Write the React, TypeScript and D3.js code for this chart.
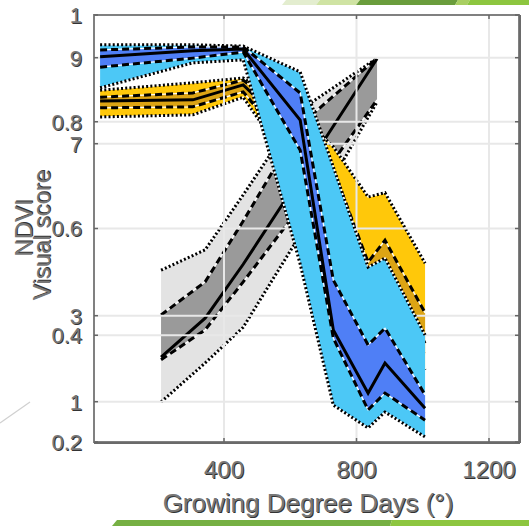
import React from "react";
import * as d3 from "d3";

// sampling dates (growing degree days)
const gddMain = [26, 306, 458, 630, 730, 835, 886, 1007];
const gddGrey = [210, 343, 458, 630, 862];

// visual score band (blue)
const scoreOuterHi = [9.3, 9.3, 9.27, 8.67, 6.46, 4.13, 4.34, 2.55];
const scoreInnerHi = [9.18, 9.25, 9.25, 8.18, 3.83, 2.32, 2.71, 1.16];
const scoreMed = [9.02, 9.16, 9.2, 7.55, 2.67, 1.2, 1.9, 0.85];
const scoreInnerLo = [8.78, 8.99, 9.13, 6.85, 2.48, 0.81, 1.2, 0.57];
const scoreOuterLo = [8.3, 8.88, 8.95, 4.2, 0.92, 0.39, 0.76, 0.18];

// NDVI band (yellow)
const ndviOuterHi = [0.859, 0.873, 0.882, 0.813, 0.753, 0.659, 0.667, 0.535];
const ndviInnerHi = [0.846, 0.854, 0.878, 0.794, 0.71, 0.537, 0.578, 0.442];
const ndviMed = [0.839, 0.841, 0.869, 0.766, 0.672, 0.5, 0.525, 0.385];
const ndviInnerLo = [0.826, 0.828, 0.856, 0.728, 0.616, 0.466, 0.494, 0.363];
const ndviOuterLo = [0.809, 0.813, 0.846, 0.691, 0.56, 0.429, 0.466, 0.335];

// grey band (on NDVI scale)
const greyOuterHi = [0.522, 0.56, 0.663, 0.822, 0.919];
const greyInnerHi = [0.438, 0.5, 0.614, 0.794, 0.919];
const greyMed = [0.359, 0.432, 0.533, 0.696, 0.918];
const greyInnerLo = [0.354, 0.41, 0.5, 0.64, 0.841];
const greyOuterLo = [0.275, 0.348, 0.415, 0.588, 0.837];

const xTicks = [400, 800, 1200];
const ndviTicks = [1, 0.8, 0.6, 0.4, 0.2];
const scoreTicks = [9, 7, 3, 1];

const plot = { left: 94, right: 519, top: 15, bottom: 442 };

const x = d3.scaleLinear().domain([0, 1200]).range([91.5, 489]);
const yNdvi = d3.scaleLinear().domain([0.2, 1]).range([442, 15]);
const yScore = d3.scaleLinear().domain([1, 9]).range([401.7, 57.7]);

const font = "'Liberation Sans', Arial, sans-serif";

function Band({ xs, y, hi, ihi, med, ilo, lo, outerFill, innerFill }) {
  const area = d3
    .area<number>()
    .x((_, i) => x(xs[i]))
    .y0((_, i) => y(lo[i]))
    .y1((d) => y(d));
  const innerArea = d3
    .area<number>()
    .x((_, i) => x(xs[i]))
    .y0((_, i) => y(ilo[i]))
    .y1((d) => y(d));
  const line = d3
    .line<number>()
    .x((_, i) => x(xs[i]))
    .y((d) => y(d));

  return (
    <g>
      <path d={area(hi)!} fill={outerFill} />
      <path d={innerArea(ihi)!} fill={innerFill} />
      {[hi, lo].map((s, k) => (
        <g key={"dot" + k}>
          <path d={line(s)!} fill="none" stroke="#fff" strokeWidth={1.5} />
          <path d={line(s)!} fill="none" stroke="#000" strokeWidth={3} strokeDasharray="2,2.2" />
        </g>
      ))}
      {[ihi, ilo].map((s, k) => (
        <g key={"dash" + k}>
          <path d={line(s)!} fill="none" stroke="#fff" strokeWidth={1.3} />
          <path d={line(s)!} fill="none" stroke="#000" strokeWidth={3} strokeDasharray="7,4" />
        </g>
      ))}
      <path d={line(med)!} fill="none" stroke="#000" strokeWidth={3} />
    </g>
  );
}

function Label({ x, y, size, anchor, children, rotate = false, dy = "0" }) {
  const t = rotate ? `rotate(-90,${x},${y})` : undefined;
  return (
    <g transform={t} fontFamily={font} fontSize={size} textAnchor={anchor}>
      <text x={x + 1} y={y + 1} dy={dy} fill="#333">{children}</text>
      <text x={x} y={y} dy={dy} fill="#777">{children}</text>
    </g>
  );
}

export default function App() {
  const gridColor = "#e8e8e8";
  return (
    <svg width={529} height={526} style={{ position: "absolute", left: 0, top: 0, background: "#fff" }}>
      {/* slide decoration */}
      <polygon points="282,5 286,0 320,0 316,5" fill="#e3edcf" />
      <polygon points="316,5 320,0 360,0 356,5" fill="#cfe3a3" />
      <polygon points="356,5 360,0 458,0 455,5" fill="#6a9d3c" />
      <polygon points="455,5 458,0 470,0 467,5" fill="#a9cf62" />
      <polygon points="467,5 470,0 529,0 529,5" fill="#8dc63f" />
      <polygon points="112,526 117,520 392,520 390,526" fill="#76b043" />
      <polygon points="390,526 392,520 529,520 529,526" fill="#8dc63f" />
      <line x1={0} y1={423} x2={30} y2={402} stroke="#d0d0d0" strokeWidth={1.2} />

      <rect x={plot.left} y={plot.top} width={plot.right - plot.left} height={plot.bottom - plot.top} fill="#fff" />

      <Band xs={gddGrey} y={yNdvi} hi={greyOuterHi} ihi={greyInnerHi} med={greyMed} ilo={greyInnerLo} lo={greyOuterLo} outerFill="#e3e3e3" innerFill="#9a9a9a" />
      <Band xs={gddMain} y={yNdvi} hi={ndviOuterHi} ihi={ndviInnerHi} med={ndviMed} ilo={ndviInnerLo} lo={ndviOuterLo} outerFill="#ffc80a" innerFill="#dca414" />

      {/* grid */}
      {xTicks.map((t) => (
        <line key={"gx" + t} x1={x(t)} x2={x(t)} y1={plot.top} y2={plot.bottom} stroke={gridColor} strokeWidth={2} />
      ))}
      {ndviTicks.slice(1, 4).map((t) => (
        <line key={"gn" + t} x1={plot.left} x2={plot.right} y1={yNdvi(t)} y2={yNdvi(t)} stroke={gridColor} strokeWidth={2} />
      ))}
      {scoreTicks.map((t) => (
        <line key={"gs" + t} x1={plot.left} x2={plot.right} y1={yScore(t)} y2={yScore(t)} stroke={gridColor} strokeWidth={2} />
      ))}

      <Band xs={gddMain} y={yScore} hi={scoreOuterHi} ihi={scoreInnerHi} med={scoreMed} ilo={scoreInnerLo} lo={scoreOuterLo} outerFill="#4cc8f6" innerFill="#4f7ff6" />

      {/* frame and ticks */}
      <rect x={plot.left} y={plot.top} width={plot.right - plot.left} height={plot.bottom - plot.top} fill="none" stroke="#808080" strokeWidth={2} />
      <line x1={plot.right + 1} x2={plot.right + 1} y1={plot.top} y2={plot.bottom + 1} stroke="#6a6a6a" strokeWidth={2} />
      <line x1={plot.left} x2={plot.right + 1} y1={plot.bottom + 1} y2={plot.bottom + 1} stroke="#6a6a6a" strokeWidth={2} />
      {xTicks.map((t) => (
        <g key={"tx" + t}>
          <line x1={x(t)} x2={x(t)} y1={plot.bottom} y2={plot.bottom - 4} stroke="#666" strokeWidth={1.5} />
          <line x1={x(t)} x2={x(t)} y1={plot.top} y2={plot.top + 4} stroke="#666" strokeWidth={1.5} />
        </g>
      ))}
      {[...ndviTicks.map((t) => yNdvi(t)), ...scoreTicks.map((t) => yScore(t))].map((py, i) => (
        <g key={"ty" + i}>
          <line x1={plot.left} x2={plot.left + 4} y1={py} y2={py} stroke="#666" strokeWidth={1.5} />
          <line x1={plot.right} x2={plot.right - 4} y1={py} y2={py} stroke="#666" strokeWidth={1.5} />
        </g>
      ))}

      {/* tick labels */}
      {xTicks.map((t) => (
        <Label key={"lx" + t} x={x(t)} y={478} size={24} anchor="middle">{String(t)}</Label>
      ))}
      {ndviTicks.map((t) => (
        <Label key={"ln" + t} x={82} y={yNdvi(t)} size={22} anchor="end" dy="0.36em">{String(t)}</Label>
      ))}
      {scoreTicks.map((t) => (
        <Label key={"ls" + t} x={82} y={yScore(t)} size={22} anchor="end" dy="0.36em">{String(t)}</Label>
      ))}

      {/* axis titles */}
      <Label x={308} y={512} size={26} anchor="middle">Growing Degree Days (°)</Label>
      <Label x={32} y={228} size={24} anchor="middle" rotate>NDVI</Label>
      <Label x={50} y={235} size={24} anchor="middle" rotate>Visual score</Label>
    </svg>
  );
}
